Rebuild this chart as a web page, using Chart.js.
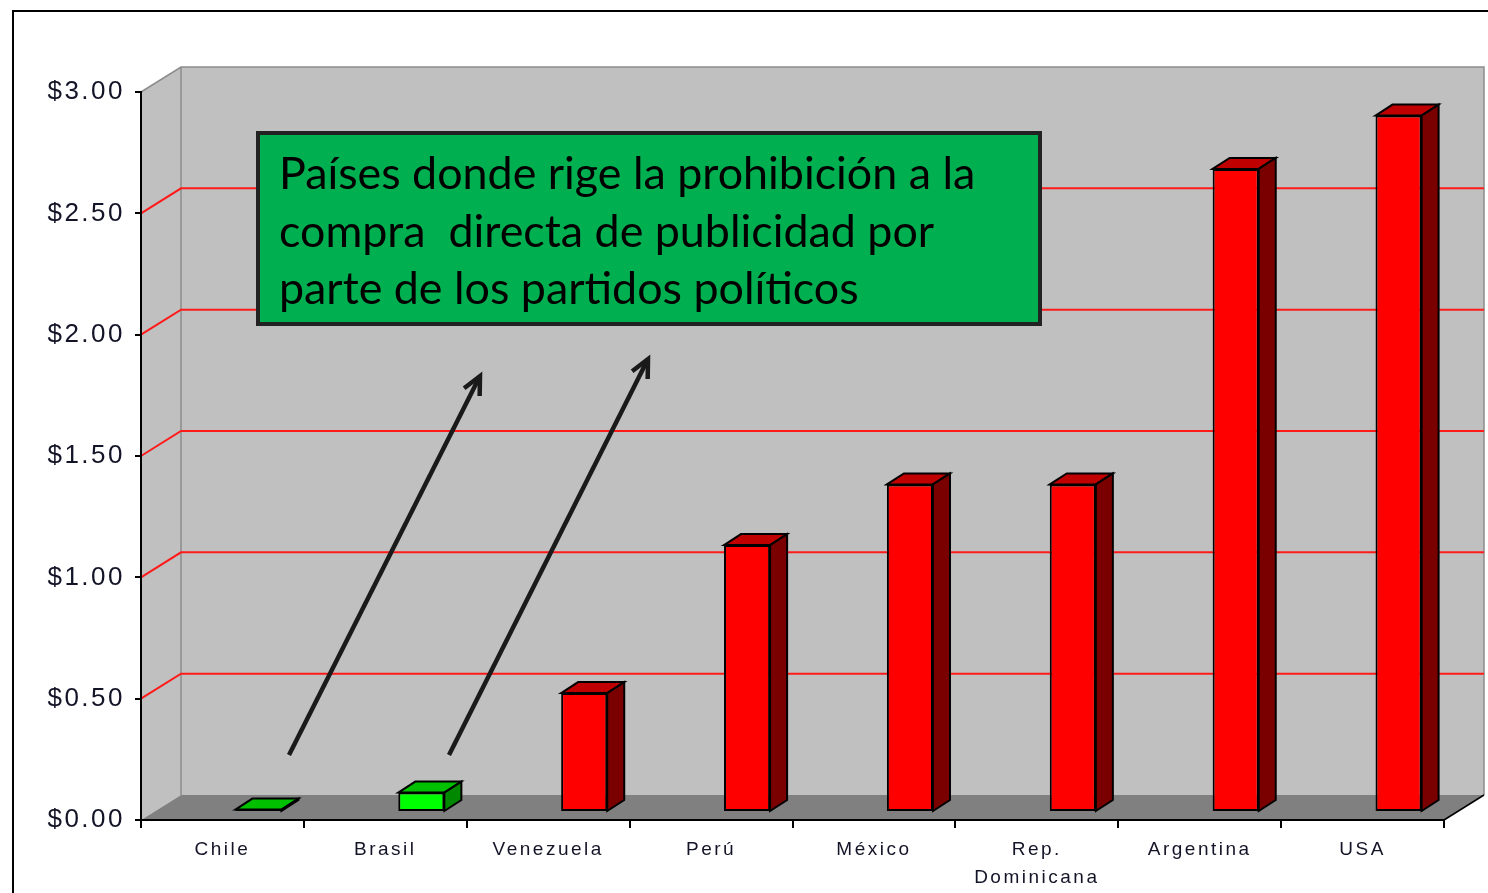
<!DOCTYPE html>
<html>
<head>
<meta charset="utf-8">
<style>
  html, body { margin: 0; padding: 0; background: #fff; }
  #wrap { width: 1488px; height: 893px; }
</style>
<script src="https://cdn.jsdelivr.net/npm/chart.js@4.4.0/dist/chart.umd.min.js"></script>
</head>
<body>
<div id="wrap"><canvas id="myChart" width="1488" height="893"></canvas></div>
<script>
// datos (gasto por elector, USD)
const paises = ['Chile', 'Brasil', 'Venezuela', 'Perú', 'México', ['Rep.', 'Dominicana'], 'Argentina', 'USA'];
const gasto = [0.01, 0.08, 0.49, 1.10, 1.35, 1.35, 2.65, 2.87];
const notaLineas = [
    'Países donde rige la prohibición a la',
    'compra  directa de publicidad por',
    'parte de los partidos políticos'
];

// colores: verde para los paises con prohibicion
const colorFrente = ['#00e000', '#00ff00', '#ff0000', '#ff0000', '#ff0000', '#ff0000', '#ff0000', '#ff0000'];
const colorTapa = ['#00c000', '#00c000', '#c00000', '#c00000', '#c00000', '#c00000', '#c00000', '#c00000'];
const colorLado = ['#008800', '#008800', '#7a0000', '#7a0000', '#7a0000', '#7a0000', '#7a0000', '#7a0000'];

const DX = 40, DY = 25;         // profundidad de paredes
const BX = 17, BY = 11;         // profundidad de las barras
const SX = 36, SY = 8;          // desplazamiento de las barras

const fondo3d = {
    id: 'fondo3d',
    beforeDraw(chart) {
        const ctx = chart.ctx;
        const a = chart.chartArea;
        const ys = chart.scales.y;
        const y0 = ys.getPixelForValue(0);
        const yT = ys.getPixelForValue(3);
        ctx.save();
        ctx.fillStyle = '#fff';
        ctx.fillRect(0, 0, chart.width, chart.height);
        // marco
        ctx.strokeStyle = '#000';
        ctx.lineWidth = 2;
        ctx.beginPath();
        ctx.moveTo(13, chart.height);
        ctx.lineTo(13, 11);
        ctx.lineTo(chart.width, 11);
        ctx.stroke();
        // pared lateral
        ctx.fillStyle = '#c0c0c0';
        ctx.beginPath();
        ctx.moveTo(a.left, yT);
        ctx.lineTo(a.left + DX, yT - DY);
        ctx.lineTo(a.left + DX, y0 - DY);
        ctx.lineTo(a.left, y0);
        ctx.closePath();
        ctx.fill();
        // pared del fondo
        ctx.fillRect(a.left + DX, yT - DY, a.right - a.left, y0 - yT);
        ctx.strokeStyle = '#8c8c8c';
        ctx.lineWidth = 1.5;
        ctx.beginPath();
        ctx.moveTo(a.left, yT);
        ctx.lineTo(a.left + DX, yT - DY);
        ctx.lineTo(a.right + DX, yT - DY);
        ctx.lineTo(a.right + DX, y0 - DY);
        ctx.moveTo(a.left + DX, yT - DY);
        ctx.lineTo(a.left + DX, y0 - DY);
        ctx.stroke();
        // piso
        ctx.fillStyle = '#808080';
        ctx.beginPath();
        ctx.moveTo(a.left, y0);
        ctx.lineTo(a.left + DX, y0 - DY);
        ctx.lineTo(a.right + DX, y0 - DY);
        ctx.lineTo(a.right, y0);
        ctx.closePath();
        ctx.fill();
        ctx.strokeStyle = '#000';
        ctx.lineWidth = 1.5;
        ctx.beginPath();
        ctx.moveTo(a.right, y0);
        ctx.lineTo(a.right + DX, y0 - DY);
        ctx.stroke();
        // lineas de grilla
        ctx.strokeStyle = '#ff1a1a';
        ctx.lineWidth = 2;
        ys.ticks.forEach(t => {
            if (t.value <= 0 || t.value >= 3) return;
            const y = ys.getPixelForValue(t.value);
            ctx.beginPath();
            ctx.moveTo(a.left, y);
            ctx.lineTo(a.left + DX, y - DY);
            ctx.lineTo(a.right + DX, y - DY);
            ctx.stroke();
        });
        ctx.restore();
        // texto de ejes espaciado como en el original
        ctx.letterSpacing = '2.5px';
    },
    beforeDatasetsDraw(chart) {
        chart.ctx.save();
        chart.ctx.translate(SX, -SY);
    },
    afterDatasetsDraw(chart) {
        const ctx = chart.ctx;
        const meta = chart.getDatasetMeta(0);
        ctx.lineWidth = 2;
        ctx.strokeStyle = '#000';
        ctx.lineJoin = 'miter';
        meta.data.forEach((bar, i) => {
            const p = bar.getProps(['x', 'y', 'base', 'width'], true);
            const l = p.x - p.width / 2, r = p.x + p.width / 2;
            // tapa
            ctx.fillStyle = colorTapa[i];
            ctx.beginPath();
            ctx.moveTo(l, p.y);
            ctx.lineTo(l + BX, p.y - BY);
            ctx.lineTo(r + BX, p.y - BY);
            ctx.lineTo(r, p.y);
            ctx.closePath();
            ctx.fill();
            ctx.stroke();
            // lado
            ctx.fillStyle = colorLado[i];
            ctx.beginPath();
            ctx.moveTo(r, p.y);
            ctx.lineTo(r + BX, p.y - BY);
            ctx.lineTo(r + BX, p.base - BY);
            ctx.lineTo(r, p.base);
            ctx.closePath();
            ctx.fill();
            ctx.stroke();
        });
        ctx.restore();
    },
    afterDraw(chart) {
        const ctx = chart.ctx;
        ctx.save();
        ctx.letterSpacing = '0px';
        // flechas
        ctx.strokeStyle = '#1a1a1a';
        ctx.lineWidth = 4.5;
        ctx.lineCap = 'butt';
        const flechas = [[289, 755, 480, 376], [449, 755, 648, 359]];
        flechas.forEach(f => {
            const ang = Math.atan2(f[3] - f[1], f[2] - f[0]);
            ctx.beginPath();
            ctx.moveTo(f[0], f[1]);
            ctx.lineTo(f[2], f[3]);
            ctx.stroke();
            ctx.beginPath();
            ctx.moveTo(f[2] - 20 * Math.cos(ang - 0.45), f[3] - 20 * Math.sin(ang - 0.45));
            ctx.lineTo(f[2], f[3]);
            ctx.lineTo(f[2] - 20 * Math.cos(ang + 0.45), f[3] - 20 * Math.sin(ang + 0.45));
            ctx.stroke();
        });
        // recuadro
        ctx.fillStyle = '#00b050';
        ctx.fillRect(258, 133, 782, 191);
        ctx.strokeStyle = '#222';
        ctx.lineWidth = 4;
        ctx.strokeRect(258, 133, 782, 191);
        ctx.fillStyle = '#000';
        ctx.textBaseline = 'alphabetic';
        ctx.font = '40px Lato';
        const w = ctx.measureText(notaLineas[0]).width;
        const size = 40 * 696 / w;
        ctx.font = size.toFixed(1) + 'px Lato';
        notaLineas.forEach((t, i) => ctx.fillText(t, 279, 189 + i * 57.5));
        ctx.restore();
    }
};

const config = {
    type: 'bar',
    data: {
        labels: paises,
        datasets: [{
            data: gasto,
            backgroundColor: colorFrente,
            borderColor: '#000',
            borderWidth: 2,
            borderSkipped: false,
            barPercentage: 0.283,
            categoryPercentage: 1
        }]
    },
    options: {
        responsive: false,
        animation: false,
        devicePixelRatio: 1,
        layout: { padding: { left: 0, top: 92, right: 44, bottom: 0 } },
        plugins: { legend: { display: false }, tooltip: { enabled: false } },
        scales: {
            x: {
                grid: { offset: true, drawOnChartArea: false, tickLength: 8, color: '#000', lineWidth: 2 },
                border: { display: true, color: '#000', width: 2 },
                ticks: {
                    color: '#141428',
                    font: { family: 'Liberation Sans', size: 19, lineHeight: 1.45 },
                    padding: 8,
                    maxRotation: 0,
                    autoSkip: false
                },
                afterFit: s => { s.height = 73; }
            },
            y: {
                min: 0,
                max: 3,
                grid: { drawOnChartArea: false, tickLength: 6, color: '#000', lineWidth: 2 },
                border: { display: true, color: '#000', width: 2 },
                ticks: {
                    stepSize: 0.5,
                    color: '#141428',
                    padding: 10,
                    font: { family: 'Liberation Sans', size: 26 },
                    callback: v => '$' + v.toFixed(2)
                },
                afterFit: s => { s.width = 141; }
            }
        }
    },
    plugins: [fondo3d]
};

const myChart = new Chart(document.getElementById('myChart'), config);
</script>
</body>
</html>
